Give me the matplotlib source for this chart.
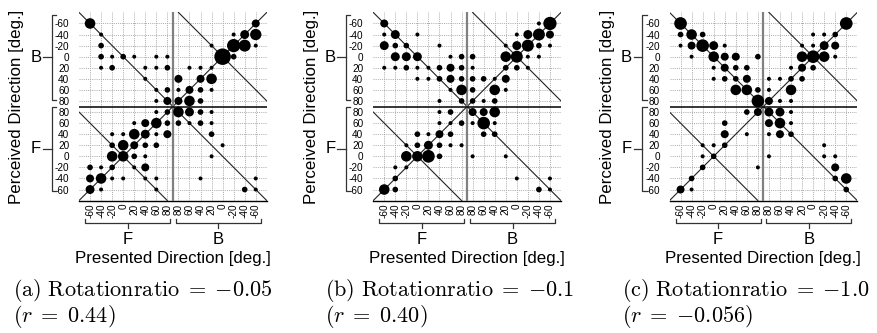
import numpy as np
import matplotlib
matplotlib.use("Agg")
import matplotlib.pyplot as plt
from matplotlib import font_manager
from matplotlib.transforms import blended_transform_factory

plt.rcParams['mathtext.fontset'] = 'cm'
_names = {f.name for f in font_manager.fontManager.ttflist}
SANS = 'Liberation Sans Narrow' if 'Liberation Sans Narrow' in _names else 'Liberation Sans'
plt.rcParams['font.family'] = [SANS, 'DejaVu Sans']

# ---------------- data ----------------
# presented direction categories (x, left to right)
presented_groups = ['F', 'B']
presented_labels = ['-60', '-40', '-20', '0', '20', '40', '60', '80',
                    '80', '60', '40', '20', '0', '-20', '-40', '-60']
# perceived direction categories (y, top to bottom)
perceived_groups = ['B', 'F']
perceived_labels = ['-60', '-40', '-20', '0', '20', '40', '60', '80',
                    '80', '60', '40', '20', '0', '-20', '-40', '-60']

# response counts: rows = perceived (top to bottom), cols = presented (left to right)
counts_a = [
    [7, 0, 0, 0, 0, 0, 0, 0, 0, 0, 0, 0, 0, 0, 0, 4],
    [0, 1, 0, 0, 0, 0, 0, 0, 0, 0, 0, 0, 0, 1, 5, 8],
    [0, 2, 0, 0, 0, 0, 0, 0, 0, 0, 0, 1, 0, 11, 9, 1],
    [0, 2, 1, 2, 1, 0, 1, 1, 0, 0, 0, 0, 17, 2, 0, 0],
    [0, 1, 2, 0, 0, 1, 1, 2, 0, 1, 1, 1, 0, 0, 0, 0],
    [0, 0, 0, 0, 0, 1, 0, 0, 4, 0, 4, 7, 0, 0, 0, 0],
    [0, 0, 0, 0, 0, 0, 1, 2, 1, 4, 2, 1, 0, 0, 0, 0],
    [0, 0, 0, 0, 0, 0, 1, 4, 4, 7, 2, 0, 0, 0, 0, 0],
    [0, 0, 0, 0, 0, 0, 1, 2, 7, 5, 2, 1, 0, 0, 0, 0],
    [0, 0, 0, 0, 1, 4, 7, 2, 2, 1, 2, 1, 0, 0, 0, 0],
    [0, 0, 1, 1, 7, 5, 1, 4, 0, 0, 0, 2, 0, 0, 0, 0],
    [0, 0, 2, 7, 4, 2, 2, 0, 0, 0, 0, 0, 1, 0, 0, 0],
    [0, 0, 7, 7, 2, 1, 0, 0, 0, 0, 0, 1, 0, 0, 0, 0],
    [2, 1, 2, 0, 1, 4, 0, 0, 0, 0, 0, 0, 0, 0, 0, 0],
    [4, 7, 1, 1, 0, 1, 1, 0, 0, 0, 1, 0, 0, 0, 0, 1],
    [5, 1, 0, 0, 0, 0, 1, 0, 0, 0, 0, 0, 0, 0, 2, 1],
]
counts_b = [
    [4, 0, 0, 0, 0, 0, 0, 0, 0, 0, 0, 0, 0, 0, 1, 11],
    [1, 5, 0, 1, 0, 0, 0, 0, 0, 0, 0, 0, 1, 5, 9, 4],
    [5, 2, 2, 0, 0, 1, 0, 0, 0, 0, 0, 1, 5, 9, 2, 1],
    [0, 5, 5, 5, 0, 0, 1, 2, 2, 0, 0, 7, 9, 1, 1, 0],
    [1, 1, 2, 1, 1, 2, 4, 2, 1, 0, 0, 2, 2, 1, 0, 0],
    [0, 0, 0, 1, 1, 2, 4, 2, 2, 2, 1, 4, 0, 0, 0, 0],
    [0, 0, 0, 0, 0, 0, 1, 7, 2, 0, 7, 1, 0, 0, 0, 0],
    [0, 0, 0, 0, 0, 1, 0, 2, 2, 1, 2, 0, 0, 0, 0, 0],
    [0, 0, 0, 0, 0, 1, 2, 0, 4, 4, 7, 0, 0, 0, 0, 0],
    [0, 0, 0, 0, 0, 1, 1, 2, 1, 10, 1, 0, 0, 0, 0, 0],
    [0, 0, 0, 2, 1, 4, 2, 0, 0, 2, 2, 0, 0, 0, 0, 0],
    [0, 0, 1, 2, 5, 2, 1, 1, 0, 0, 0, 0, 0, 0, 0, 0],
    [0, 0, 7, 7, 10, 2, 0, 0, 1, 0, 0, 1, 0, 0, 0, 0],
    [0, 1, 1, 0, 0, 0, 0, 0, 0, 0, 0, 0, 0, 0, 0, 0],
    [0, 2, 0, 0, 0, 0, 0, 0, 0, 0, 0, 0, 1, 0, 0, 1],
    [7, 2, 0, 0, 0, 0, 0, 0, 0, 0, 0, 0, 0, 0, 2, 1],
]
counts_c = [
    [10, 0, 0, 0, 0, 0, 0, 0, 0, 0, 0, 0, 0, 0, 0, 10],
    [2, 7, 2, 0, 0, 0, 0, 0, 0, 0, 0, 0, 1, 1, 2, 0],
    [1, 4, 10, 5, 1, 0, 0, 0, 0, 0, 0, 1, 1, 5, 4, 0],
    [0, 1, 0, 7, 4, 4, 0, 2, 0, 0, 0, 7, 10, 7, 1, 0],
    [0, 0, 0, 1, 4, 2, 2, 0, 0, 0, 1, 4, 2, 0, 0, 0],
    [0, 0, 0, 1, 2, 2, 4, 0, 1, 1, 2, 2, 0, 0, 0, 0],
    [0, 0, 0, 0, 0, 7, 7, 2, 1, 0, 7, 0, 0, 0, 0, 0],
    [0, 0, 0, 0, 0, 0, 0, 10, 4, 1, 1, 0, 0, 0, 0, 0],
    [0, 0, 0, 0, 0, 0, 2, 4, 5, 5, 1, 0, 0, 0, 0, 0],
    [0, 0, 0, 0, 2, 0, 0, 0, 4, 7, 1, 0, 0, 0, 0, 0],
    [0, 0, 0, 0, 4, 0, 1, 0, 1, 4, 2, 0, 0, 0, 0, 0],
    [0, 0, 1, 1, 2, 0, 0, 0, 0, 0, 0, 0, 0, 1, 0, 0],
    [0, 0, 1, 2, 0, 0, 0, 0, 1, 0, 0, 0, 0, 1, 1, 0],
    [0, 0, 2, 0, 0, 0, 0, 1, 0, 0, 0, 0, 0, 0, 4, 0],
    [0, 2, 0, 0, 0, 0, 0, 0, 0, 0, 0, 0, 0, 0, 2, 7],
    [4, 1, 0, 0, 0, 0, 0, 0, 0, 0, 0, 0, 0, 0, 0, 2],
]
captions = [r"$\mathrm{(a)\ Rotationratio}\;=\;{-}0.05$",
            r"$\mathrm{(b)\ Rotationratio}\;=\;{-}0.1$",
            r"$\mathrm{(c)\ Rotationratio}\;=\;{-}1.0$"]
correlations = [r"$(r\;=\;0.44)$", r"$(r\;=\;0.40)$", r"$(r\;=\;{-}0.056)$"]
panels = [counts_a, counts_b, counts_c]

# ---------------- layout ----------------
W, H = 877, 333
fig = plt.figure(figsize=(W / 100, H / 100), dpi=100)

ax_left_px = [79.0, 373.2, 669.5]
ax_w_px = 187.8
ax_top_px, ax_bot_px = 12.4, 200.6
ax_h_px = ax_bot_px - ax_top_px
caption_x_px = [13.3, 325.0, 621.7]

n = len(presented_labels)
half = n // 2

for k, counts in enumerate(panels):
    ax = fig.add_axes([ax_left_px[k] / W, 1 - ax_bot_px / H, ax_w_px / W, ax_h_px / H])
    M = np.array(counts)
    rows, cols = np.nonzero(M)
    xs = cols
    ys = (n - 1) - rows
    ax.scatter(xs, ys, s=8.3 * M[rows, cols], color='black', zorder=5, linewidths=0)

    lo, hi = -1, n
    ax.set_xlim(lo, hi)
    ax.set_ylim(lo, hi)
    mid = (n - 1) / 2
    # reference lines
    ax.plot([lo, hi], [lo, hi], color='#222222', lw=0.8, zorder=3)
    ax.plot([lo, hi], [n - 1 - lo, n - 1 - hi], color='#222222', lw=0.8, zorder=3)
    ax.plot([lo, half - 1], [half - 2 - lo, -1], color='#222222', lw=0.8, zorder=3)
    ax.plot([half, hi], [3 * half - half, 3 * half - hi], color='#222222', lw=0.8, zorder=3)
    ax.axvline(mid, color='#808080', lw=1.6, zorder=4)
    ax.axhline(mid, color='black', lw=1.1, zorder=4)

    ax.set_xticks(range(n))
    ax.set_xticklabels(presented_labels, rotation=90, fontsize=7.2)
    ax.set_yticks(range(n))
    ax.set_yticklabels(perceived_labels[::-1], fontsize=7.2)
    ax.tick_params(axis='both', length=0)
    ax.tick_params(axis='y', pad=7)
    ax.tick_params(axis='x', pad=2)
    ax.grid(True, ls=(0, (1, 1.2)), color='#a8a8a8', lw=0.7, zorder=0)
    for sp in ['left', 'right', 'top']:
        ax.spines[sp].set_visible(False)
    ax.spines['bottom'].set_linewidth(1.0)

    # y brackets (B top, F bottom)
    ty = blended_transform_factory(ax.transAxes, ax.transData)
    bx = -27.5 / ax_w_px
    hook = 4.5 / ax_w_px
    tick = 8.5 / ax_w_px
    for g, (y0, y1) in zip(perceived_groups, [(15.75, 8.13), (7.5, -0.15)]):
        ax.plot([bx + hook, bx, bx, bx + hook], [y0, y0, y1, y1], transform=ty,
                color='#333333', lw=0.9, clip_on=False)
        ym = (y0 + y1) / 2
        ax.plot([bx, bx - tick], [ym, ym], transform=ty, color='#333333', lw=0.9, clip_on=False)
        ax.text(-43 / ax_w_px, ym, g, transform=ty, fontsize=12, ha='center', va='center')

    # x brackets (F left, B right)
    tx = blended_transform_factory(ax.transData, ax.transAxes)
    by = -22.7 / ax_h_px
    vh = 4.3 / ax_h_px
    vt = 4.7 / ax_h_px
    for g, (x0, x1) in zip(presented_groups, [(-0.45, 7.24), (7.76, 15.47)]):
        ax.plot([x0, x0, x1, x1], [by + vh, by, by, by + vh], transform=tx,
                color='#333333', lw=0.9, clip_on=False)
        xm = (x0 + x1) / 2
        ax.plot([xm, xm], [by, by - vt], transform=tx, color='#333333', lw=0.9, clip_on=False)
        ax.text(xm, -39.4 / ax_h_px, g, transform=tx, fontsize=12, ha='center', va='center')

    ax.text(0.5, -58.4 / ax_h_px, 'Presented Direction [deg.]', transform=ax.transAxes,
            fontsize=12.2, ha='center', va='center')
    ax.text(-62 / ax_w_px, 0.5, 'Perceived Direction [deg.]', transform=ax.transAxes,
            fontsize=12.2, ha='center', va='center', rotation=90)

    fig.text(caption_x_px[k] / W, 1 - 290 / H, captions[k], fontsize=16, ha='left', va='center')
    fig.text(caption_x_px[k] / W, 1 - 316 / H, correlations[k], fontsize=16, ha='left', va='center')

fig.savefig('out.png', dpi=100)
